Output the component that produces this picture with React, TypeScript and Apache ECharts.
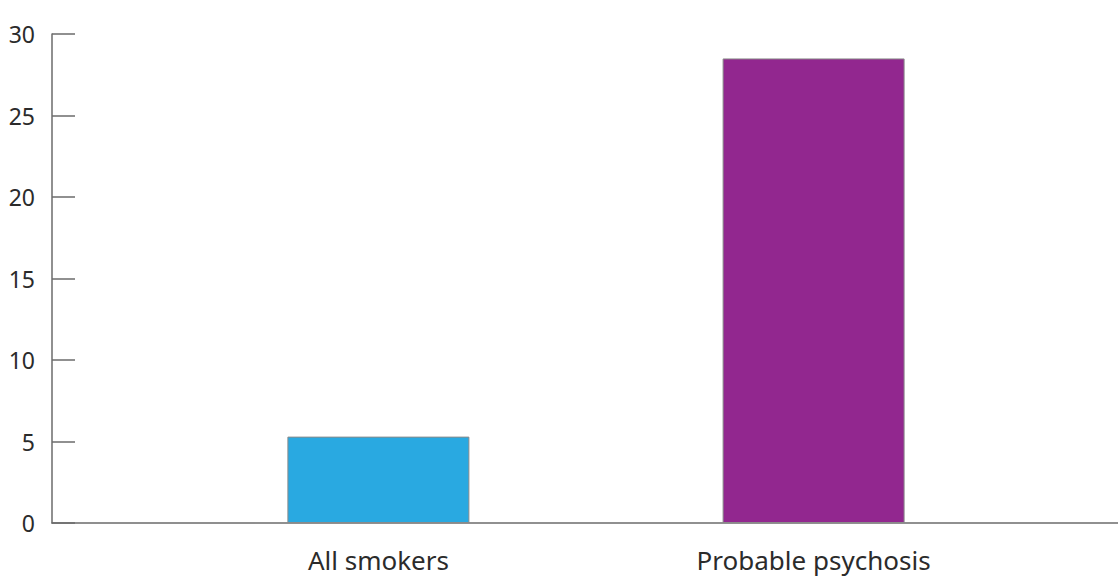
import React, { useEffect, useRef } from "react";
import * as echarts from "echarts";

const categories = ["", "All smokers", "", "Probable psychosis", ""];
const values: (number | null)[] = [null, 5.3, null, 28.5, null];
const barColors = ["#29a9e1", "#29a9e1", "#92278f", "#92278f", "#92278f"];
const yTicks = { min: 0, max: 30, interval: 5 };

export default function App() {
  const ref = useRef<HTMLDivElement>(null);
  useEffect(() => {
    if (!ref.current) return;
    const chart = echarts.init(ref.current, undefined, { renderer: "svg" });
    const font = "'Noto Sans', sans-serif";
    chart.setOption({
      animation: false,
      grid: { left: 52, right: 0, top: 34, bottom: 56, containLabel: false },
      xAxis: {
        type: "category",
        data: categories,
        axisLine: { lineStyle: { color: "#6b6b6b", width: 1.5 } },
        axisTick: { show: false },
        axisLabel: { color: "#2b2b2b", fontFamily: font, fontSize: 26, lineHeight: 26, margin: 24, interval: 0 },
      },
      yAxis: {
        type: "value",
        min: yTicks.min,
        max: yTicks.max,
        interval: yTicks.interval,
        splitLine: { show: false },
        axisLine: { show: true, lineStyle: { color: "#6b6b6b", width: 1.5 } },
        axisTick: { show: true, inside: true, length: 23, lineStyle: { color: "#6b6b6b", width: 1.5 } },
        axisLabel: { color: "#2b2b2b", fontFamily: font, fontSize: 23, margin: 17, padding: [0, 0, 12, 0] },
      },
      series: [
        {
          type: "bar",
          barWidth: 182,
          data: values.map((v, i) => ({
            value: v,
            itemStyle: { color: barColors[i], borderColor: "#8a8a8a", borderWidth: 1 },
          })),
        },
      ],
    });
    return () => chart.dispose();
  }, []);
  return (
    <div
      style={{ position: "fixed", left: 0, top: 0, width: 1118, height: 579, overflow: "hidden", background: "#fff" }}
    >
      <div ref={ref} style={{ width: 1140, height: 579 }} />
    </div>
  );
}
